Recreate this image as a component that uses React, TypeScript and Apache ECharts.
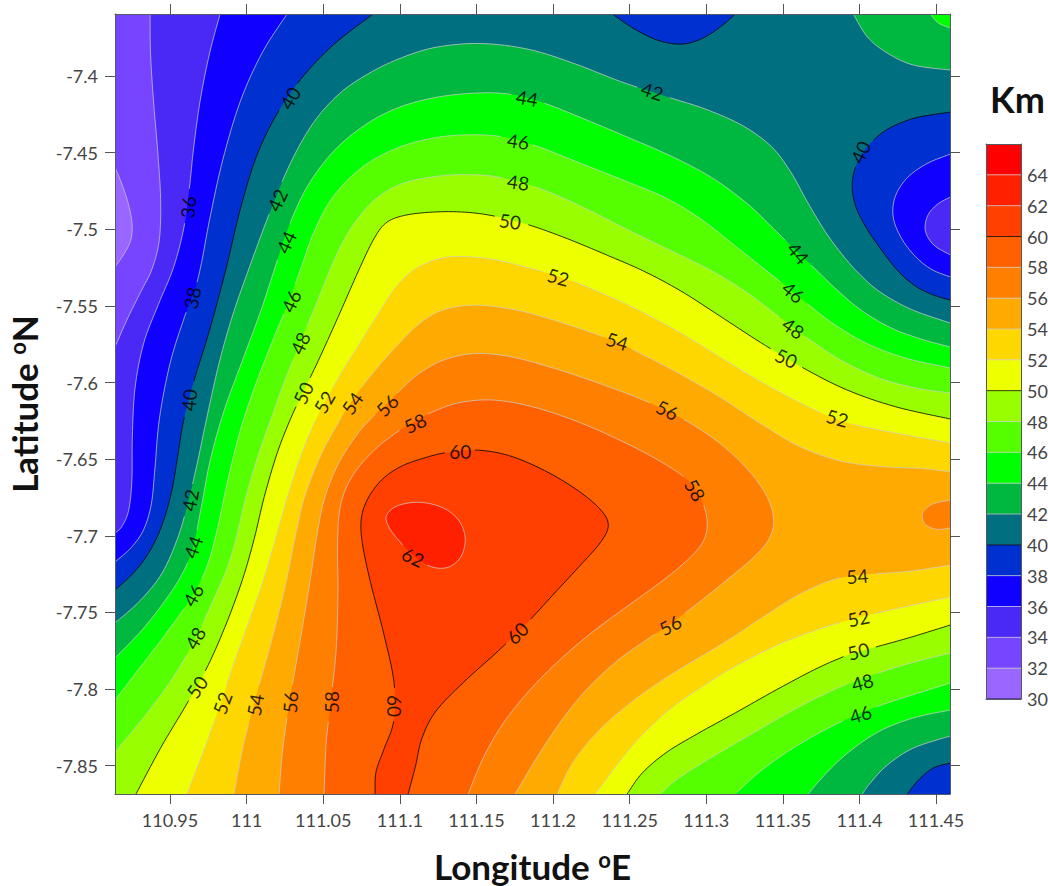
import React, { useEffect, useRef } from "react";
import * as echarts from "echarts";

type Pt = number[];

const lonMin = 110.9141, lonMax = 111.4591, latMin = -7.8685, latMax = -7.3595;
const lonTicks = [110.95, 111, 111.05, 111.1, 111.15, 111.2, 111.25, 111.3, 111.35, 111.4, 111.45];
const latTicks = [-7.4, -7.45, -7.5, -7.55, -7.6, -7.65, -7.7, -7.75, -7.8, -7.85];
const legendLevels = [30, 32, 34, 36, 38, 40, 42, 44, 46, 48, 50, 52, 54, 56, 58, 60, 62, 64];
const legendColors = ["#9966ff", "#7744ff", "#4a28f5", "#1000ff", "#0030d0", "#007080", "#00b840", "#00ff00", "#55ff00", "#99ff00", "#eeff00", "#ffd700", "#ffaa00", "#ff8000", "#ff6000", "#ff4000", "#ff2000", "#ff0000"];

const c32: Pt[] = [[110.9141,-7.4594],[110.9187,-7.4711],[110.9232,-7.4842],[110.9252,-7.4972],[110.9245,-7.5070],[110.9206,-7.5148],[110.9141,-7.5246]];
const c34: Pt[] = [[110.9370,-7.3595],[110.9370,-7.3830],[110.9389,-7.4157],[110.9422,-7.4483],[110.9435,-7.4809],[110.9435,-7.5070],[110.9383,-7.5266],[110.9304,-7.5396],[110.9226,-7.5579],[110.9141,-7.5768]];
const c36: Pt[] = [[110.9827,-7.3595],[110.9761,-7.3830],[110.9696,-7.4157],[110.9650,-7.4483],[110.9631,-7.4724],[110.9585,-7.4985],[110.9533,-7.5266],[110.9422,-7.5481],[110.9324,-7.5742],[110.9272,-7.6029],[110.9252,-7.6355],[110.9252,-7.6656],[110.9239,-7.6832],[110.9174,-7.6949],[110.9141,-7.6982]];
const c38: Pt[] = [[111.0264,-7.3595],[111.0107,-7.3830],[110.9957,-7.4157],[110.9846,-7.4548],[110.9761,-7.4920],[110.9696,-7.5266],[110.9676,-7.5351],[110.9598,-7.5572],[110.9500,-7.5853],[110.9422,-7.6245],[110.9402,-7.6571],[110.9389,-7.6767],[110.9317,-7.6982],[110.9258,-7.7060],[110.9141,-7.7171]];
const c40Left: Pt[] = [[111.0826,-7.3595],[111.0564,-7.3785],[111.0349,-7.4026],[111.0199,-7.4267],[111.0068,-7.4502],[110.9957,-7.4855],[110.9872,-7.5266],[110.9761,-7.5657],[110.9650,-7.6003],[110.9585,-7.6245],[110.9552,-7.6486],[110.9520,-7.6682],[110.9467,-7.6851],[110.9415,-7.7028],[110.9324,-7.7158],[110.9239,-7.7269],[110.9141,-7.7354]];
const c40Top: Pt[] = [[111.2386,-7.3595],[111.2523,-7.3687],[111.2700,-7.3778],[111.2850,-7.3791],[111.2961,-7.3752],[111.3092,-7.3687],[111.3190,-7.3595]];
const c40Right: Pt[] = [[111.4594,-7.4235],[111.4352,-7.4267],[111.4182,-7.4352],[111.4052,-7.4463],[111.3973,-7.4594],[111.3960,-7.4724],[111.3973,-7.4855],[111.4052,-7.5005],[111.4156,-7.5135],[111.4241,-7.5266],[111.4352,-7.5364],[111.4482,-7.5429],[111.4594,-7.5462]];
const c38Right: Pt[] = [[111.4594,-7.4509],[111.4443,-7.4568],[111.4313,-7.4659],[111.4234,-7.4789],[111.4221,-7.4920],[111.4267,-7.5050],[111.4378,-7.5181],[111.4463,-7.5266],[111.4594,-7.5311]];
const c36Right: Pt[] = [[111.4594,-7.4789],[111.4509,-7.4829],[111.4443,-7.4920],[111.4430,-7.5005],[111.4482,-7.5116],[111.4594,-7.5168]];
const c42Corner: Pt[] = [[111.3960,-7.3595],[111.4052,-7.3745],[111.4182,-7.3850],[111.4352,-7.3928],[111.4594,-7.3961]];
const c44Corner: Pt[] = [[111.4463,-7.3595],[111.4515,-7.3654],[111.4594,-7.3687]];
const c42: Pt[] = [[110.9141,-7.7569],[110.9304,-7.7419],[110.9454,-7.7243],[110.9552,-7.7028],[110.9631,-7.6682],[110.9676,-7.6571],[110.9742,-7.6199],[110.9827,-7.5853],[110.9911,-7.5546],[111.0016,-7.5266],[111.0153,-7.4894],[111.0284,-7.4568],[111.0434,-7.4307],[111.0610,-7.4111],[111.0787,-7.3993],[111.1002,-7.3896],[111.1217,-7.3811],[111.1524,-7.3785],[111.1870,-7.3830],[111.2132,-7.3915],[111.2439,-7.4046],[111.2746,-7.4137],[111.2961,-7.4202],[111.3268,-7.4333],[111.3418,-7.4463],[111.3549,-7.4613],[111.3660,-7.4829],[111.3764,-7.5005],[111.3921,-7.5201],[111.3986,-7.5266],[111.4136,-7.5416],[111.4332,-7.5527],[111.4594,-7.5612]];
const c44: Pt[] = [[110.9141,-7.7797],[110.9324,-7.7615],[110.9454,-7.7439],[110.9585,-7.7223],[110.9644,-7.7112],[110.9703,-7.6832],[110.9761,-7.6486],[110.9846,-7.6199],[110.9977,-7.5853],[111.0088,-7.5546],[111.0186,-7.5266],[111.0264,-7.5005],[111.0395,-7.4724],[111.0564,-7.4483],[111.0787,-7.4320],[111.1002,-7.4202],[111.1217,-7.4143],[111.1524,-7.4111],[111.1740,-7.4124],[111.1916,-7.4170],[111.2223,-7.4287],[111.2523,-7.4418],[111.2746,-7.4515],[111.3046,-7.4659],[111.3268,-7.4829],[111.3438,-7.5005],[111.3581,-7.5135],[111.3725,-7.5266],[111.3856,-7.5396],[111.4006,-7.5527],[111.4221,-7.5657],[111.4398,-7.5709],[111.4594,-7.5768]];
const c46: Pt[] = [[110.9141,-7.8072],[110.9304,-7.7856],[110.9454,-7.7660],[110.9650,-7.7399],[110.9716,-7.7223],[110.9807,-7.7028],[110.9872,-7.6616],[110.9957,-7.6310],[111.0068,-7.6003],[111.0173,-7.5703],[111.0284,-7.5462],[111.0356,-7.5266],[111.0434,-7.5024],[111.0564,-7.4789],[111.0741,-7.4594],[111.1002,-7.4470],[111.1217,-7.4404],[111.1479,-7.4385],[111.1701,-7.4404],[111.1870,-7.4450],[111.2177,-7.4568],[111.2484,-7.4698],[111.2746,-7.4796],[111.2961,-7.4920],[111.3177,-7.5116],[111.3399,-7.5266],[111.3549,-7.5396],[111.3660,-7.5481],[111.3856,-7.5638],[111.4052,-7.5742],[111.4313,-7.5853],[111.4594,-7.5905]];
const c48: Pt[] = [[110.9141,-7.8411],[110.9350,-7.8156],[110.9546,-7.7895],[110.9663,-7.7667],[110.9781,-7.7419],[110.9872,-7.7204],[110.9938,-7.7028],[110.9977,-7.6786],[111.0068,-7.6486],[111.0173,-7.6225],[111.0251,-7.5964],[111.0349,-7.5742],[111.0434,-7.5546],[111.0545,-7.5266],[111.0610,-7.5116],[111.0721,-7.4940],[111.0852,-7.4796],[111.1002,-7.4705],[111.1217,-7.4659],[111.1479,-7.4646],[111.1655,-7.4665],[111.1916,-7.4731],[111.2197,-7.4855],[111.2484,-7.5005],[111.2746,-7.5135],[111.3046,-7.5266],[111.3268,-7.5416],[111.3438,-7.5546],[111.3660,-7.5703],[111.3875,-7.5853],[111.4136,-7.5984],[111.4398,-7.6036],[111.4594,-7.6068]];
const c50: Pt[] = [[110.9278,-7.8685],[110.9435,-7.8378],[110.9611,-7.8091],[110.9742,-7.7876],[110.9872,-7.7550],[110.9977,-7.7269],[111.0055,-7.7028],[111.0107,-7.6747],[111.0199,-7.6460],[111.0303,-7.6199],[111.0369,-7.6068],[111.0480,-7.5833],[111.0610,-7.5546],[111.0734,-7.5266],[111.0826,-7.5070],[111.0917,-7.4959],[111.1002,-7.4920],[111.1217,-7.4887],[111.1440,-7.4887],[111.1609,-7.4920],[111.1838,-7.4966],[111.2093,-7.5057],[111.2354,-7.5181],[111.2589,-7.5266],[111.2830,-7.5396],[111.3092,-7.5572],[111.3353,-7.5736],[111.3627,-7.5899],[111.3921,-7.6049],[111.4221,-7.6160],[111.4594,-7.6238]];
const c52: Pt[] = [[110.9611,-7.8685],[110.9742,-7.8333],[110.9840,-7.8091],[110.9892,-7.7876],[111.0003,-7.7595],[111.0107,-7.7308],[111.0186,-7.7028],[111.0264,-7.6747],[111.0369,-7.6440],[111.0460,-7.6225],[111.0591,-7.5984],[111.0741,-7.5742],[111.0891,-7.5507],[111.0976,-7.5390],[111.1100,-7.5246],[111.1329,-7.5181],[111.1544,-7.5181],[111.1870,-7.5266],[111.2034,-7.5311],[111.2158,-7.5351],[111.2523,-7.5507],[111.2830,-7.5670],[111.3092,-7.5840],[111.3372,-7.6003],[111.3660,-7.6160],[111.3856,-7.6231],[111.3960,-7.6277],[111.4247,-7.6329],[111.4594,-7.6395]];
const c54: Pt[] = [[110.9918,-7.8685],[110.9977,-7.8333],[111.0055,-7.8104],[111.0153,-7.7700],[111.0264,-7.7308],[111.0316,-7.7028],[111.0369,-7.6747],[111.0480,-7.6486],[111.0610,-7.6245],[111.0689,-7.6134],[111.0787,-7.5964],[111.1002,-7.5755],[111.1133,-7.5612],[111.1283,-7.5527],[111.1505,-7.5494],[111.1766,-7.5527],[111.2047,-7.5605],[111.2308,-7.5703],[111.2419,-7.5729],[111.2569,-7.5820],[111.2830,-7.5938],[111.3092,-7.6094],[111.3353,-7.6264],[111.3614,-7.6421],[111.3875,-7.6519],[111.4182,-7.6551],[111.4417,-7.6551],[111.4594,-7.6584]];
const c56: Pt[] = [[111.0212,-7.8685],[111.0231,-7.8378],[111.0284,-7.8085],[111.0349,-7.7680],[111.0414,-7.7308],[111.0460,-7.7028],[111.0499,-7.6767],[111.0591,-7.6551],[111.0721,-7.6329],[111.0852,-7.6199],[111.0917,-7.6147],[111.1002,-7.6049],[111.1133,-7.5938],[111.1283,-7.5853],[111.1505,-7.5807],[111.1720,-7.5833],[111.1982,-7.5905],[111.2308,-7.6003],[111.2615,-7.6134],[111.2830,-7.6225],[111.3092,-7.6395],[111.3268,-7.6571],[111.3399,-7.6747],[111.3438,-7.6897],[111.3405,-7.7028],[111.3307,-7.7138],[111.3157,-7.7269],[111.2941,-7.7439],[111.2765,-7.7582],[111.2615,-7.7680],[111.2393,-7.7830],[111.2177,-7.8052],[111.1962,-7.8333],[111.1753,-7.8685]];
const c56Blob: Pt[] = [[111.4594,-7.6767],[111.4482,-7.6780],[111.4411,-7.6851],[111.4417,-7.6917],[111.4509,-7.6969],[111.4594,-7.6949]];
const c58: Pt[] = [[111.0506,-7.8685],[111.0512,-7.8333],[111.0551,-7.8085],[111.0591,-7.7745],[111.0597,-7.7354],[111.0597,-7.7028],[111.0610,-7.6786],[111.0695,-7.6616],[111.0826,-7.6440],[111.1002,-7.6310],[111.1100,-7.6264],[111.1198,-7.6199],[111.1394,-7.6127],[111.1609,-7.6114],[111.1870,-7.6160],[111.2177,-7.6264],[111.2484,-7.6395],[111.2746,-7.6551],[111.2876,-7.6636],[111.2961,-7.6747],[111.3013,-7.6930],[111.2974,-7.7028],[111.2896,-7.7138],[111.2746,-7.7269],[111.2523,-7.7439],[111.2288,-7.7595],[111.2047,-7.7811],[111.1851,-7.8006],[111.1675,-7.8222],[111.1544,-7.8443],[111.1446,-7.8685]];
const c60: Pt[] = [[111.0839,-7.8685],[111.0832,-7.8548],[111.0891,-7.8378],[111.0969,-7.8222],[111.0969,-7.7961],[111.0891,-7.7634],[111.0806,-7.7308],[111.0754,-7.7028],[111.0754,-7.6897],[111.0787,-7.6767],[111.0891,-7.6616],[111.1002,-7.6558],[111.1133,-7.6506],[111.1283,-7.6460],[111.1505,-7.6440],[111.1701,-7.6473],[111.1936,-7.6571],[111.2177,-7.6714],[111.2308,-7.6832],[111.2354,-7.6943],[111.2321,-7.7028],[111.2158,-7.7210],[111.1982,-7.7399],[111.1838,-7.7563],[111.1655,-7.7745],[111.1413,-7.7961],[111.1217,-7.8156],[111.1146,-7.8313],[111.1113,-7.8509],[111.1054,-7.8685]];
const c62: Pt[] = [[111.0904,-7.6877],[111.0982,-7.6799],[111.1133,-7.6780],[111.1283,-7.6819],[111.1381,-7.6897],[111.1426,-7.7008],[111.1407,-7.7138],[111.1309,-7.7204],[111.1217,-7.7204],[111.1087,-7.7138],[111.1002,-7.7028],[111.0937,-7.6943]];
const low54: Pt[] = [[111.4594,-7.7191],[111.4352,-7.7236],[111.4136,-7.7243],[111.3986,-7.7262],[111.3810,-7.7289],[111.3594,-7.7386],[111.3372,-7.7530],[111.3157,-7.7680],[111.2941,-7.7797],[111.2746,-7.7928],[111.2523,-7.8072],[111.2308,-7.8267],[111.2112,-7.8483],[111.2027,-7.8685]];
const low52: Pt[] = [[111.4594,-7.7399],[111.4352,-7.7452],[111.4117,-7.7504],[111.3993,-7.7536],[111.3764,-7.7602],[111.3483,-7.7700],[111.3177,-7.7856],[111.2961,-7.8006],[111.2746,-7.8150],[111.2523,-7.8346],[111.2275,-7.8685]];
const low50: Pt[] = [[111.4594,-7.7582],[111.4352,-7.7660],[111.4104,-7.7726],[111.3993,-7.7758],[111.3895,-7.7791],[111.3699,-7.7876],[111.3483,-7.7987],[111.3157,-7.8182],[111.2961,-7.8280],[111.2746,-7.8411],[111.2569,-7.8548],[111.2484,-7.8685]];
const low48: Pt[] = [[111.4594,-7.7765],[111.4352,-7.7824],[111.4136,-7.7889],[111.4019,-7.7941],[111.3856,-7.7993],[111.3594,-7.8117],[111.3268,-7.8313],[111.2961,-7.8496],[111.2811,-7.8580],[111.2700,-7.8685]];
const low46: Pt[] = [[111.4594,-7.7961],[111.4352,-7.8039],[111.4136,-7.8104],[111.4006,-7.8163],[111.3790,-7.8254],[111.3549,-7.8398],[111.3333,-7.8548],[111.3190,-7.8685]];
const low44: Pt[] = [[111.4594,-7.8137],[111.4352,-7.8189],[111.4136,-7.8267],[111.3921,-7.8417],[111.3764,-7.8574],[111.3666,-7.8685]];
const low42: Pt[] = [[111.4594,-7.8306],[111.4352,-7.8385],[111.4182,-7.8496],[111.4071,-7.8613],[111.4019,-7.8685]];
const low40: Pt[] = [[111.4594,-7.8483],[111.4482,-7.8515],[111.4385,-7.8594],[111.4313,-7.8685]];

const TL = [lonMin, latMax], TR = [lonMax, latMax], BR = [lonMax, latMin], BL = [lonMin, latMin];

// [contour, its level, band that fills it, corners that close it]
const regions: [Pt[], number, number, Pt[]][] = [
  [c40Left, 40, 38, [TL]], [c38, 38, 36, [TL]], [c36, 36, 34, [TL]], [c34, 34, 32, [TL]], [c32, 32, 30, []],
  [c40Top, 40, 38, []], [c40Right, 40, 38, []], [c38Right, 38, 36, []], [c36Right, 36, 34, []],
  [c42, 42, 42, [BR, BL]], [c42Corner, 42, 42, [TR]], [c44Corner, 44, 44, [TR]],
  [c44, 44, 44, [BR, BL]], [c46, 46, 46, [BR, BL]], [c48, 48, 48, [BR, BL]],
  [c50, 50, 50, [BR]], [c52, 52, 52, [BR]], [c54, 54, 54, [BR]],
  [c56, 56, 56, []], [c56Blob, 56, 56, []], [c58, 58, 58, []], [c60, 60, 60, []], [c62, 62, 62, []],
  [low54, 54, 52, [BR]], [low52, 52, 50, [BR]], [low50, 50, 48, [BR]], [low48, 48, 46, [BR]],
  [low46, 46, 44, [BR]], [low44, 44, 42, [BR]], [low42, 42, 40, [BR]], [low40, 40, 38, [BR]],
];

// lon, lat, value, rotation along the contour
const contourLabels: number[][] = [
  [110.9618,-7.4855,36,85],[110.9644,-7.5448,38,80],[110.9624,-7.6114,40,85],[110.9631,-7.6767,42,80],
  [110.9650,-7.7073,44,70],[110.9650,-7.7386,46,60],[110.9663,-7.7667,48,60],[110.9676,-7.7987,50,55],
  [110.9840,-7.8091,52,70],[111.0055,-7.8104,54,80],[111.0284,-7.8085,56,85],[111.0551,-7.8085,58,90],[111.0963,-7.8111,60,-90],
  [111.0284,-7.4143,40,60],[111.0199,-7.4809,42,65],[111.0258,-7.5083,44,65],[111.0290,-7.5468,46,65],[111.0349,-7.5742,48,65],
  [111.0369,-7.6068,50,65],[111.0506,-7.6127,52,60],[111.0689,-7.6134,54,55],[111.0917,-7.6147,56,45],[111.1100,-7.6264,58,25],
  [111.1394,-7.6453,60,0],[111.1087,-7.7138,62,-25],[111.1831,-7.4143,44,-10],[111.1773,-7.4424,46,-8],[111.1773,-7.4692,48,-8],
  [111.1720,-7.4946,50,-8],[111.2034,-7.5311,52,-15],[111.2419,-7.5729,54,-17],[111.2746,-7.6179,56,-25],[111.2928,-7.6701,58,-60],
  [111.2648,-7.4098,42,-18],[111.1766,-7.7634,60,45],[111.2765,-7.7582,56,28],[111.4006,-7.4496,40,65],[111.3601,-7.5155,44,-50],
  [111.3568,-7.5409,46,-40],[111.3568,-7.5644,48,-35],[111.3523,-7.5840,50,-25],[111.3856,-7.6231,52,-15],[111.3986,-7.7262,54,5],
  [111.3993,-7.7536,52,12],[111.3993,-7.7752,50,15],[111.4019,-7.7954,48,15],[111.4006,-7.8163,46,18],
];

const bandColor = (lo: number) => legendColors[legendLevels.indexOf(lo)];
const levelStroke = (lv: number) => (lv % 10 === 0 ? "rgba(0,0,0,0.78)" : "rgba(205,205,205,0.72)");

// evens out hand-read wobble in screen space without pulling the bends inward
function relax(p: number[][], closed: boolean): number[][] {
  let cur = p;
  const n = p.length;
  [0.5, -0.53, 0.5, -0.53].forEach((w) => {
    const prev = cur;
    cur = prev.map((q, i) => {
      if (!closed && (i === 0 || i === n - 1)) return q;
      const a = prev[(i - 1 + n) % n], b = prev[(i + 1) % n];
      return [q[0] + w * ((a[0] + b[0]) / 2 - q[0]), q[1] + w * ((a[1] + b[1]) / 2 - q[1])];
    });
  });
  return cur;
}

function smooth(raw: number[][], closed: boolean): number[][] {
  const p = raw.length > 5 ? relax(raw, closed) : raw;
  const n = p.length, out: number[][] = [];
  const at = (i: number) => (closed ? p[(i + n) % n] : p[Math.max(0, Math.min(n - 1, i))]);
  const segs = closed ? n : n - 1;
  for (let i = 0; i < segs; i++) {
    const a = at(i - 1), b = at(i), c = at(i + 1), d = at(i + 2);
    for (let k = 0; k < 8; k++) {
      const t = k / 8, t2 = t * t, t3 = t2 * t;
      out.push([0, 1].map((j) => 0.5 * (2 * b[j] + (c[j] - a[j]) * t + (2 * a[j] - 5 * b[j] + 4 * c[j] - d[j]) * t2 + (3 * b[j] - a[j] - 3 * c[j] + d[j]) * t3)));
    }
  }
  out.push(closed ? out[0] : p[n - 1]);
  return out;
}

function axisSet(grid: number, kind: "x" | "y", min: number, max: number, ticks: number[], labels: boolean, pos: string, extra: any = {}) {
  return {
    type: "value", gridIndex: grid, position: pos, min, max, z: 6,
    splitLine: { show: false },
    axisLine: { show: true, onZero: false, lineStyle: { color: "#555b66", width: 1 } },
    axisTick: ticks.length ? { show: true, length: 10, inside: false, customValues: ticks, lineStyle: { color: "#555", width: 1 } } : { show: false },
    axisLabel: labels ? { show: true, customValues: ticks, color: "#444", fontFamily: "Lato", fontSize: 18, margin: 17 } : { show: false },
    ...extra,
  };
}

const titleStyle = {
  rich: {
    a: { fontFamily: "Lato", fontWeight: "bold", fontSize: 35, color: "#111" },
    b: { fontFamily: "Lato", fontWeight: "bold", fontSize: 22, color: "#111", verticalAlign: "top", lineHeight: 35 },
  },
};

export default function App() {
  const ref = useRef<HTMLDivElement>(null);
  useEffect(() => {
    const chart = echarts.init(ref.current!, null, { renderer: "svg" });
    chart.setOption({
      animation: false,
      title: { text: "Km", left: 985, top: 76, textStyle: { fontFamily: "Lato", fontWeight: "bold", fontSize: 36, color: "#111" } },
      grid: [
        { left: 115, top: 14, width: 835, height: 780, show: true, backgroundColor: bandColor(40), borderWidth: 0, outerBoundsMode: "none" },
        { left: 986, top: 144, width: 35, height: 555, show: false, outerBoundsMode: "none" },
      ],
      xAxis: [
        axisSet(0, "x", lonMin, lonMax, lonTicks, true, "bottom", {
          name: "{a|Longitude }{b|o}{a|E}", nameLocation: "middle", nameGap: 54, nameTextStyle: titleStyle,
        }),
        axisSet(0, "x", lonMin, lonMax, lonTicks, false, "top"),
        axisSet(1, "x", 0, 1, [], false, "bottom"),
        axisSet(1, "x", 0, 1, [], false, "top"),
      ],
      yAxis: [
        axisSet(0, "y", latMin, latMax, latTicks, true, "left", {
          name: "{a|Latitude }{b|o}{a|N}", nameLocation: "middle", nameGap: 74, nameTextStyle: titleStyle,
        }),
        axisSet(0, "y", latMin, latMax, latTicks, false, "right"),
        axisSet(1, "y", 30, 66, [], false, "left"),
        {
          ...axisSet(1, "y", 30, 66, [], false, "right"),
          axisLabel: { show: true, customValues: legendLevels, color: "#444", fontFamily: "Lato", fontSize: 18, margin: 6 },
        },
      ],
      series: [
        {
          type: "custom", name: "fills", xAxisIndex: 0, yAxisIndex: 0, clip: true, silent: true, z: 2,
          data: regions.map((r) => r[0][0]),
          renderItem: (params: any, api: any) => {
            const [line, , band, corners] = regions[params.dataIndex];
            const closed = line === c62;
            const pts = smooth(line.map((p) => api.coord(p)), closed).concat(corners.map((p) => api.coord(p)));
            return { type: "polygon", shape: { points: pts }, style: { fill: bandColor(band) } };
          },
        },
        {
          type: "custom", name: "contours", xAxisIndex: 0, yAxisIndex: 0, clip: true, silent: true, z: 3,
          data: regions.map((r) => r[0][0]),
          renderItem: (params: any, api: any) => {
            const [line, level] = regions[params.dataIndex];
            const dense = smooth(line.map((p) => api.coord(p)), line === c62);
            const holes = contourLabels.filter((l) => l[2] === level).map((l) => api.coord([l[0], l[1]]));
            const parts: number[][][] = [];
            let cur: number[][] = [];
            dense.forEach((q) => {
              if (holes.some((h: number[]) => Math.hypot(h[0] - q[0], h[1] - q[1]) < 15)) {
                if (cur.length > 1) parts.push(cur);
                cur = [];
              } else cur.push(q);
            });
            if (cur.length > 1) parts.push(cur);
            return {
              type: "group",
              children: parts.map((points) => ({
                type: "polyline", shape: { points },
                style: { fill: "none", stroke: levelStroke(level), lineWidth: 1 },
              })),
            };
          },
        },
        {
          type: "custom", name: "contour labels", xAxisIndex: 0, yAxisIndex: 0, clip: false, silent: true, z: 4,
          data: contourLabels,
          renderItem: (_: any, api: any) => {
            const c = api.coord([api.value(0), api.value(1)]);
            return {
              type: "text", x: c[0], y: c[1], rotation: (api.value(3) * Math.PI) / 180,
              style: { text: String(api.value(2)), fontFamily: "Lato", fontSize: 19, fill: "rgba(0,0,0,0.82)", align: "center", verticalAlign: "middle" },
            };
          },
        },
        {
          type: "custom", name: "scale", xAxisIndex: 2, yAxisIndex: 2, silent: true, z: 2,
          data: legendLevels.map((lo) => [0, lo]),
          renderItem: (_: any, api: any) => {
            const lo = api.value(1);
            const a = api.coord([0, lo + 2]), b = api.coord([1, lo]);
            return {
              type: "group",
              children: [
                { type: "rect", shape: { x: a[0], y: a[1], width: b[0] - a[0], height: b[1] - a[1] }, style: { fill: bandColor(lo) } },
                { type: "line", shape: { x1: a[0], y1: b[1], x2: b[0], y2: b[1] }, style: { stroke: levelStroke(lo), lineWidth: 1 }, z2: 5 },
              ],
            };
          },
        },
      ],
    });
    return () => chart.dispose();
  }, []);
  return <div ref={ref} style={{ position: "absolute", left: 0, top: 0, width: 1048, height: 886 }} />;
}
